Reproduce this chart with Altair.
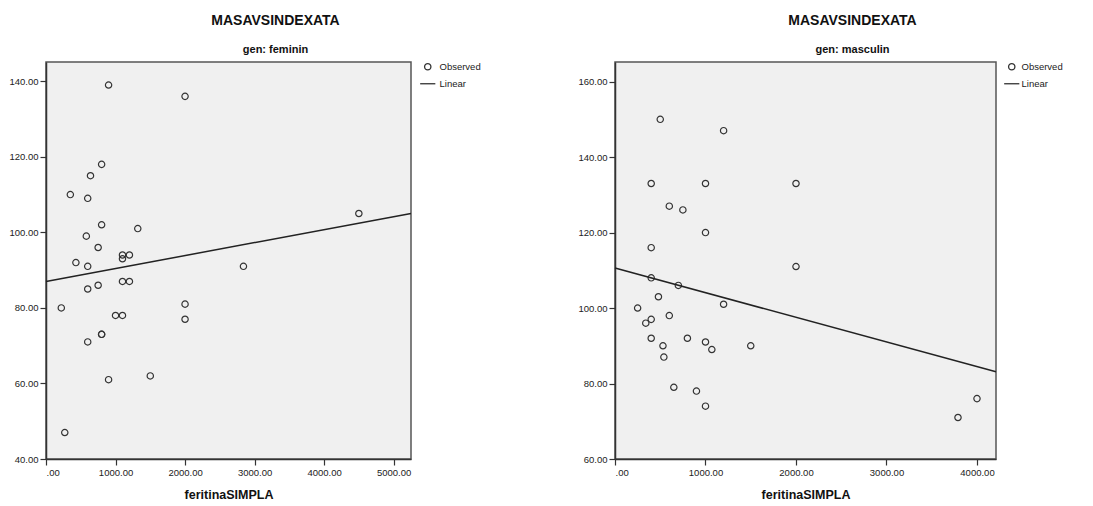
import altair as alt
import pandas as pd

FONT = "Liberation Sans"

# --- gen: feminin ---
fem_x = [900, 2000, 800, 640, 350, 600, 4500, 800, 1320, 580, 750, 1100, 1200, 1100,
         430, 600, 2840, 1100, 1200, 750, 600, 220, 2000, 1000, 1100, 2000, 800, 800,
         600, 900, 1500, 270]
fem_y = [139, 136, 118, 115, 110, 109, 105, 102, 101, 99, 96, 94, 94, 93,
         92, 91, 91, 87, 87, 86, 85, 80, 81, 78, 78, 77, 73, 73,
         71, 61, 62, 47]
fem_fit_x = [0, 5250]
fem_fit_y = [87.0, 105.0]

# --- gen: masculin ---
masc_x = [500, 1200, 400, 1000, 2000, 600, 750, 1000, 400, 2000, 400, 700, 480, 250,
          1200, 600, 400, 340, 400, 800, 1000, 530, 1500, 1070, 540, 650, 900, 1000,
          3790, 4000]
masc_y = [150, 147, 133, 133, 133, 127, 126, 120, 116, 111, 108, 106, 103, 100,
          101, 98, 97, 96, 92, 92, 91, 90, 90, 89, 87, 79, 78, 74,
          71, 76]
masc_fit_x = [0, 4210]
masc_fit_y = [110.6, 83.1]

series_names = ["Observed", "Linear"]


def panel(gen, xs, ys, fx, fy, xdom, ydom, xticks, yticks, width, leg_offset, lab_offset):
    pts = pd.DataFrame({"x": xs, "y": ys, "series": series_names[0]})
    fit = pd.DataFrame({"x": fx, "y": fy, "series": series_names[1]})
    xscale = alt.Scale(domain=xdom, nice=False, zero=False)
    yscale = alt.Scale(domain=ydom, nice=False, zero=False)
    xaxis = alt.Axis(values=xticks, title="feritinaSIMPLA",
                     labelExpr="datum.value == 0 ? '.00' : format(datum.value, '.2f')")
    yaxis = alt.Axis(values=yticks, format=".2f", title=None)
    points = alt.Chart(pts).mark_point(
        filled=False, size=40, strokeWidth=1.2, color="#333333", opacity=1
    ).encode(
        x=alt.X("x:Q", scale=xscale, axis=xaxis),
        y=alt.Y("y:Q", scale=yscale, axis=yaxis),
        shape=alt.Shape(
            "series:N",
            scale=alt.Scale(domain=series_names, range=["circle", "M-2.4,0H2.4"]),
            legend=alt.Legend(title=None, orient="right", offset=leg_offset,
                              labelOffset=lab_offset),
        ),
    )
    line = alt.Chart(fit).mark_line(color="#222222", strokeWidth=1.5).encode(
        x=alt.X("x:Q", scale=xscale),
        y=alt.Y("y:Q", scale=yscale),
    )
    return alt.layer(points, line).properties(
        width=width,
        height=397,
        title=alt.TitleParams("MASAVSINDEXATA", subtitle=f"gen: {gen}",
                              anchor="middle", frame="group", dx=47),
    )


left = panel("feminin", fem_x, fem_y, fem_fit_x, fem_fit_y, [0, 5250], [40, 145.1],
             [0, 1000, 2000, 3000, 4000, 5000], [40, 60, 80, 100, 120, 140], 365, 12, 7)
right = panel("masculin", masc_x, masc_y, masc_fit_x, masc_fit_y, [0, 4210], [60, 165.2],
              [0, 1000, 2000, 3000, 4000], [60, 80, 100, 120, 140, 160], 381, 11, 5)

chart = alt.hconcat(left, right, spacing=95).resolve_legend(
    shape="independent"
).resolve_scale(
    shape="independent", x="independent", y="independent"
).properties(
    padding={"left": 0, "top": 4, "right": 0, "bottom": 0}
).configure_view(
    fill="#F0F0F0", stroke="#555555", strokeWidth=1.5
).configure_axis(
    domainColor="#333333", domainWidth=1.5, tickColor="#333333", tickWidth=1.2,
    tickSize=6, labelPadding=2, labelFont=FONT, labelFontSize=9.5, labelColor="#222222",
    grid=False, titleFont=FONT, titleFontSize=12.5, titleFontWeight="bold",
    titleColor="#111111", titlePadding=12,
).configure_title(
    font=FONT, fontSize=14, fontWeight="bold", color="#111111",
    subtitleFont=FONT, subtitleFontSize=11, subtitleFontWeight="bold",
    subtitleColor="#111111", subtitlePadding=16.5, offset=7,
).configure_legend(
    labelFont=FONT, labelFontSize=9.5, labelColor="#222222", symbolSize=40,
    symbolStrokeWidth=1.3, symbolStrokeColor="#333333", symbolFillColor="transparent",
    padding=0, rowPadding=5,
)

chart.save("out.html", embed_options={"renderer": "svg", "actions": False})
